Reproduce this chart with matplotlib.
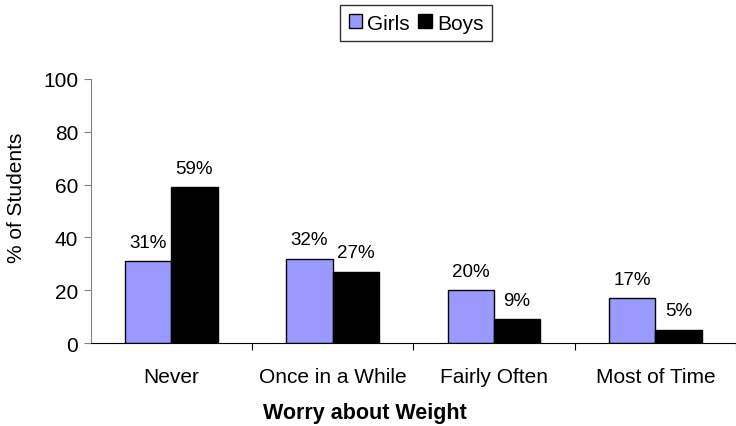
import numpy as np
import matplotlib.pyplot as plt

plt.rcParams['font.family'] = ['Liberation Sans', 'DejaVu Sans']

categories = ['Never', 'Once in a While', 'Fairly Often', 'Most of Time']
girls = [31, 32, 20, 17]
boys = [59, 27, 9, 5]
girls_lbl = ['31%', '32%', '20%', '17%']
boys_lbl = ['59%', '27%', '9%', '5%']

fig = plt.figure(figsize=(7.36, 4.27), dpi=100)
ax = fig.add_axes([0.123, 0.194, 0.877, 0.619])

x = np.arange(len(categories))
w = 0.287
b1 = ax.bar(x - w / 2, girls, w, color='#9999FF', edgecolor='black', linewidth=1, label='Girls')
b2 = ax.bar(x + w / 2, boys, w, color='black', edgecolor='black', linewidth=1, label='Boys')

for r, t in zip(b1, girls_lbl):
    ax.text(r.get_x() + r.get_width() / 2, r.get_height() + 4, t, ha='center', va='bottom', fontsize=13.5)
for r, t in zip(b2, boys_lbl):
    ax.text(r.get_x() + r.get_width() / 2, r.get_height() + 4, t, ha='center', va='bottom', fontsize=13.5)

ax.set_ylim(0, 100)
ax.set_yticks(range(0, 101, 20))
ax.set_xlim(-0.5, 3.448)
ax.set_xticks(x + 0.5, minor=False)
ax.set_xticklabels([])
ax.set_xticks(x, minor=True)
ax.set_xticklabels(categories, minor=True, fontsize=15)
ax.tick_params(axis='x', which='minor', length=0, pad=17)
ax.tick_params(axis='x', which='major', length=5, direction='out')
ax.tick_params(axis='y', labelsize=15, length=5, color='#808080', pad=4)
ax.spines['top'].set_visible(False)
ax.spines['right'].set_visible(False)
ax.spines['left'].set_color('#808080')

ax.set_ylabel('% of Students', fontsize=15)
ax.yaxis.set_label_coords((26 - 90.5) / 645.5, 0.553)
ax.set_xlabel('Worry about Weight', fontsize=15.5, fontweight='bold')
ax.xaxis.set_label_coords((365 - 90.5) / 645.5, -(403 - 344) / 264)

fig.legend(loc='center', bbox_to_anchor=(416 / 736, 1 - 24 / 427), ncol=2, fontsize=15,
           frameon=True, fancybox=False, edgecolor='black', handlelength=0.65, handleheight=0.65,
           handletextpad=0.25, columnspacing=0.4, borderpad=0.4)

fig.savefig('out.png', dpi=100)
